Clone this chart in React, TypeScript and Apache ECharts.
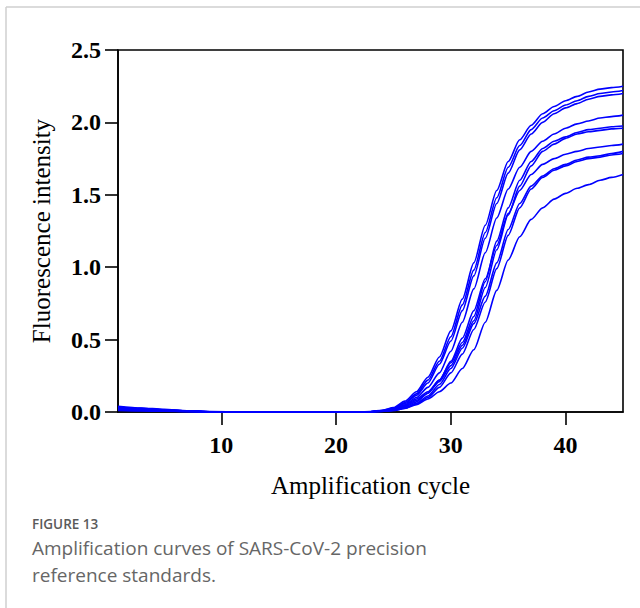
import React, { useEffect, useRef } from "react";
import * as echarts from "echarts";

// Cycles at which the curves are sampled
const CYCLES = [1, 3, 5, 7, 9, 12, 16, 20, 22, 23, 24, 25, 26, 27, 28, 29, 30, 31, 32, 33, 34, 35, 36, 37, 38, 39, 40, 41, 42, 43, 44, 45];

// Fluorescence intensity of each replicate curve
const CURVE_A = [0.04, 0.028, 0.018, 0.009, 0.003, 0, 0, 0, 0, 0.003, 0.012, 0.03, 0.075, 0.14, 0.24, 0.38, 0.56, 0.78, 1.03, 1.29, 1.53, 1.73, 1.88, 1.98, 2.06, 2.11, 2.15, 2.18, 2.21, 2.23, 2.24, 2.25];
const CURVE_B = [0.035, 0.025, 0.016, 0.008, 0.002, 0, 0, 0, 0, 0.002, 0.01, 0.026, 0.065, 0.125, 0.22, 0.35, 0.52, 0.74, 0.98, 1.24, 1.48, 1.69, 1.84, 1.95, 2.03, 2.08, 2.12, 2.15, 2.18, 2.2, 2.21, 2.22];
const CURVE_C = [0.03, 0.021, 0.014, 0.007, 0.002, 0, 0, 0, 0, 0.002, 0.009, 0.023, 0.058, 0.115, 0.2, 0.33, 0.49, 0.7, 0.94, 1.2, 1.44, 1.65, 1.81, 1.92, 2.0, 2.06, 2.1, 2.13, 2.16, 2.18, 2.19, 2.2];
const CURVE_D = [0.035, 0.024, 0.015, 0.007, 0.002, 0, 0, 0, 0, 0.002, 0.008, 0.02, 0.05, 0.1, 0.17, 0.27, 0.42, 0.62, 0.85, 1.1, 1.34, 1.54, 1.69, 1.8, 1.87, 1.92, 1.96, 1.99, 2.01, 2.03, 2.04, 2.05];
const CURVE_E = [0.025, 0.018, 0.011, 0.005, 0.001, 0, 0, 0, 0, 0.002, 0.008, 0.02, 0.045, 0.09, 0.14, 0.22, 0.34, 0.48, 0.66, 0.9, 1.18, 1.41, 1.6, 1.73, 1.82, 1.87, 1.9, 1.93, 1.95, 1.96, 1.97, 1.975];
const CURVE_F = [0.02, 0.014, 0.009, 0.004, 0.001, 0, 0, 0, 0, 0.001, 0.007, 0.017, 0.04, 0.08, 0.13, 0.21, 0.32, 0.46, 0.63, 0.86, 1.12, 1.36, 1.56, 1.7, 1.8, 1.85, 1.89, 1.92, 1.935, 1.945, 1.955, 1.96];
const CURVE_G = [0.03, 0.021, 0.013, 0.006, 0.002, 0, 0, 0, 0, 0.001, 0.006, 0.015, 0.036, 0.07, 0.13, 0.22, 0.35, 0.51, 0.7, 0.92, 1.15, 1.37, 1.53, 1.64, 1.71, 1.75, 1.78, 1.8, 1.82, 1.83, 1.84, 1.85];
const CURVE_H = [0.015, 0.011, 0.007, 0.003, 0.001, 0, 0, 0, 0, 0.001, 0.005, 0.012, 0.03, 0.06, 0.11, 0.19, 0.3, 0.44, 0.61, 0.8, 1.03, 1.26, 1.44, 1.56, 1.63, 1.68, 1.71, 1.74, 1.76, 1.77, 1.785, 1.8];
const CURVE_I = [0.01, 0.007, 0.005, 0.002, 0.001, 0, 0, 0, 0, 0.001, 0.004, 0.01, 0.026, 0.055, 0.1, 0.17, 0.27, 0.4, 0.57, 0.76, 0.99, 1.22, 1.41, 1.54, 1.62, 1.67, 1.7, 1.73, 1.75, 1.76, 1.775, 1.785];
const CURVE_J = [0.02, 0.014, 0.009, 0.004, 0.001, 0, 0, 0, 0, 0.001, 0.004, 0.01, 0.025, 0.05, 0.09, 0.14, 0.2, 0.3, 0.43, 0.62, 0.84, 1.05, 1.21, 1.33, 1.41, 1.47, 1.51, 1.545, 1.57, 1.6, 1.62, 1.64];

const CURVES = [CURVE_A, CURVE_B, CURVE_C, CURVE_D, CURVE_E, CURVE_F, CURVE_G, CURVE_H, CURVE_I, CURVE_J];

const X_TICKS = [10, 20, 30, 40];
const X_NAME = "Amplification cycle";
const Y_NAME = "Fluorescence intensity";
const CAPTION_LABEL = "FIGURE 13";
const CAPTION_LINES = ["Amplification curves of SARS-CoV-2 precision", "reference standards."];

export default function App() {
  const ref = useRef<HTMLDivElement>(null);

  useEffect(() => {
    if (!ref.current) return;
    const chart = echarts.init(ref.current, null, { renderer: "svg" });
    const serif = "'Liberation Serif', 'Times New Roman', serif";
    const axisLineStyle = { color: "#000", width: 1.6 };

    chart.setOption({
      animation: false,
      backgroundColor: "#fff",
      grid: {
        left: 118,
        right: 17,
        top: 50,
        bottom: 196,
        show: true,
        borderColor: "#000",
        borderWidth: 1.6,
        backgroundColor: "transparent",
      },
      xAxis: {
        type: "value",
        min: 1,
        max: 45,
        axisLine: { show: true, onZero: false, lineStyle: axisLineStyle },
        axisTick: { show: true, length: 13, customValues: X_TICKS, lineStyle: axisLineStyle },
        axisLabel: {
          customValues: X_TICKS,
          fontFamily: serif,
          fontWeight: "bold",
          fontSize: 24,
          color: "#000",
          margin: 21,
        },
        splitLine: { show: false },
        name: X_NAME,
        nameLocation: "middle",
        nameGap: 61,
        nameTextStyle: { fontFamily: serif, fontSize: 25, color: "#000" },
      },
      yAxis: {
        type: "value",
        min: 0,
        max: 2.5,
        interval: 0.5,
        axisLine: { show: true, onZero: false, lineStyle: axisLineStyle },
        axisTick: { show: true, length: 13, lineStyle: axisLineStyle },
        axisLabel: {
          formatter: (v: number) => v.toFixed(1),
          fontFamily: serif,
          fontWeight: "bold",
          fontSize: 24,
          color: "#000",
          margin: 17,
        },
        splitLine: { show: false },
        name: Y_NAME,
        nameLocation: "middle",
        nameGap: 64,
        nameTextStyle: { fontFamily: serif, fontSize: 25, color: "#000" },
      },
      series: CURVES.map((vals, i) => ({
        name: "curve" + (i + 1),
        type: "line",
        data: CYCLES.map((c, j) => [c, vals[j]]),
        showSymbol: false,
        smooth: 0.25,
        smoothMonotone: "x",
        clip: true,
        lineStyle: { color: "#0000ff", width: 1.6 },
      })),
      graphic: [
        { type: "line", shape: { x1: 6, y1: 7, x2: 640, y2: 7 }, style: { stroke: "#cfcfcf", lineWidth: 1.5 } },
        { type: "line", shape: { x1: 6, y1: 7, x2: 6, y2: 608 }, style: { stroke: "#cfcfcf", lineWidth: 1.5 } },
        {
          type: "text",
          x: 32,
          y: 524,
          style: { text: CAPTION_LABEL, font: "600 13.5px 'Open Sans', sans-serif", fill: "#5a5a5a", verticalAlign: "middle" },
        },
        ...CAPTION_LINES.map((t, i) => ({
          type: "text",
          x: 32,
          y: 548 + i * 27,
          style: { text: t, font: "19px 'Open Sans', sans-serif", fill: "#666", verticalAlign: "middle" },
        })),
      ],
    });

    return () => chart.dispose();
  }, []);

  return (
    <div
      ref={ref}
      style={{ position: "fixed", left: 0, top: 0, width: 640, height: 608, background: "#fff" }}
    />
  );
}
